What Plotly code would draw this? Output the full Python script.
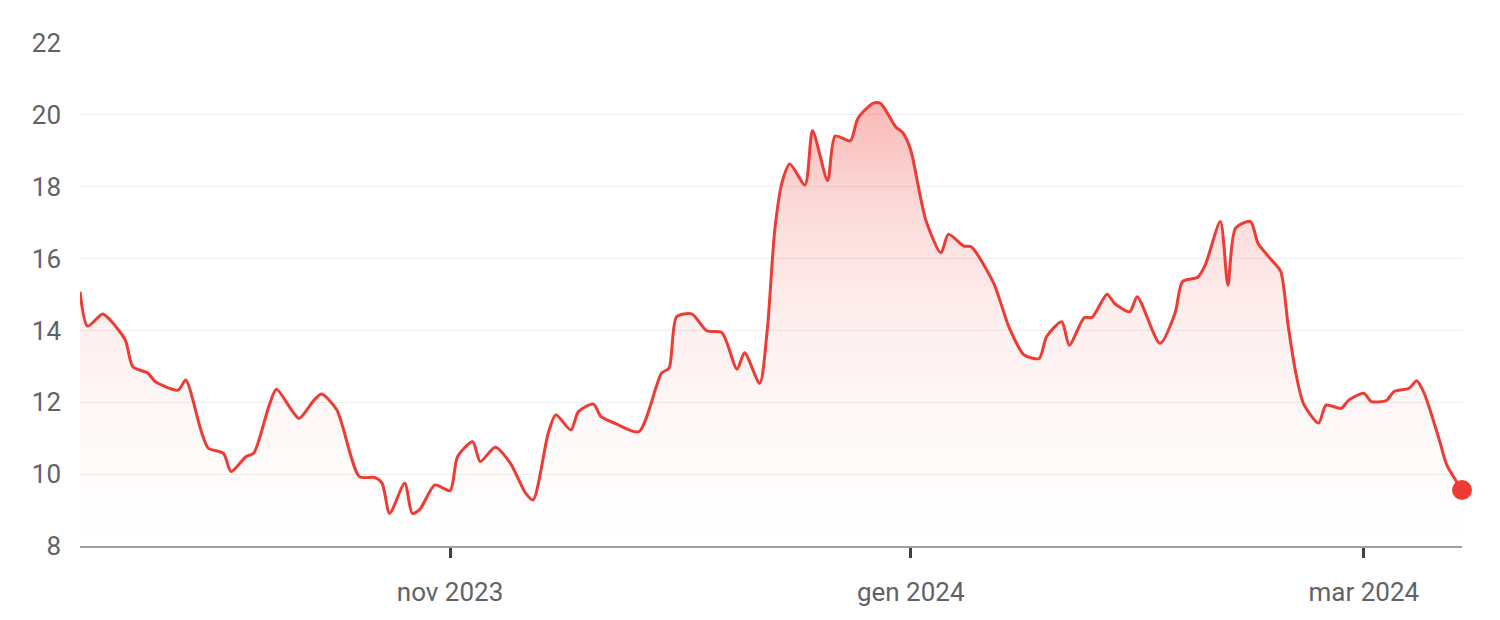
import plotly.graph_objects as go

dates = [
    "2023-09-13", "2023-09-14", "2023-09-16", "2023-09-17", "2023-09-19", "2023-09-20",
    "2023-09-22", "2023-09-23", "2023-09-26", "2023-09-27", "2023-09-29", "2023-09-30",
    "2023-10-02", "2023-10-03", "2023-10-05", "2023-10-06", "2023-10-08", "2023-10-09",
    "2023-10-11", "2023-10-12", "2023-10-14", "2023-10-15", "2023-10-17", "2023-10-20",
    "2023-10-22", "2023-10-23", "2023-10-24", "2023-10-26", "2023-10-27", "2023-10-28",
    "2023-10-30", "2023-11-01", "2023-11-02", "2023-11-04", "2023-11-05", "2023-11-07",
    "2023-11-09", "2023-11-11", "2023-11-12", "2023-11-14", "2023-11-15", "2023-11-17",
    "2023-11-18", "2023-11-20", "2023-11-21", "2023-11-23", "2023-11-26", "2023-11-29",
    "2023-11-30", "2023-12-01", "2023-12-03", "2023-12-05", "2023-12-07", "2023-12-09",
    "2023-12-10", "2023-12-12", "2023-12-13", "2023-12-14", "2023-12-15", "2023-12-16",
    "2023-12-18", "2023-12-19", "2023-12-21", "2023-12-22", "2023-12-24", "2023-12-25",
    "2023-12-27", "2023-12-28", "2023-12-30", "2023-12-31", "2024-01-01", "2024-01-03",
    "2024-01-05", "2024-01-06", "2024-01-08", "2024-01-09", "2024-01-12", "2024-01-14",
    "2024-01-16", "2024-01-18", "2024-01-19", "2024-01-21", "2024-01-22", "2024-01-24",
    "2024-01-25", "2024-01-27", "2024-01-28", "2024-01-30", "2024-01-31", "2024-02-03",
    "2024-02-05", "2024-02-06", "2024-02-08", "2024-02-09", "2024-02-11", "2024-02-12",
    "2024-02-13", "2024-02-15", "2024-02-16", "2024-02-18", "2024-02-19", "2024-02-20",
    "2024-02-21", "2024-02-22", "2024-02-24", "2024-02-25", "2024-02-27", "2024-02-28",
    "2024-03-01", "2024-03-02", "2024-03-04", "2024-03-05", "2024-03-07", "2024-03-08",
    "2024-03-09", "2024-03-11", "2024-03-12", "2024-03-14",
]

values = [
    15.08, 14.12, 14.46, 14.29, 13.73, 12.99,
    12.81, 12.57, 12.34, 12.62, 11.23, 10.72,
    10.58, 10.07, 10.49, 10.58, 11.88, 12.36,
    11.79, 11.55, 12.06, 12.23, 11.79, 9.93,
    9.91, 9.75, 8.91, 9.75, 8.91, 9.02,
    9.70, 9.54, 10.49, 10.90, 10.35, 10.75,
    10.30, 9.47, 9.28, 11.14, 11.65, 11.23,
    11.74, 11.95, 11.60, 11.40, 11.18, 12.81,
    12.95, 14.38, 14.46, 13.99, 13.94, 12.92,
    13.38, 12.53, 14.00, 16.80, 18.15, 18.63,
    18.05, 19.56, 18.17, 19.41, 19.28, 19.90,
    20.32, 20.32, 19.67, 19.49, 19.02, 17.07,
    16.16, 16.68, 16.35, 16.33, 15.31, 14.10,
    13.32, 13.22, 13.83, 14.24, 13.59, 14.36,
    14.36, 15.01, 14.75, 14.52, 14.94, 13.64,
    14.48, 15.36, 15.48, 15.82, 17.03, 15.26,
    16.84, 17.03, 16.42, 15.91, 15.64, 14.10,
    12.81, 11.97, 11.42, 11.92, 11.83, 12.06,
    12.25, 12.02, 12.05, 12.30, 12.39, 12.60,
    12.25, 10.95, 10.25, 9.56,
]

x_tick_vals = ["2023-11-01", "2024-01-01", "2024-03-01"]
x_tick_text = ["nov 2023", "gen 2024", "mar 2024"]
y_tick_vals = [8, 10, 12, 14, 16, 18, 20, 22]

RED = "#ee3b33"

fig = go.Figure()
fig.add_trace(go.Scatter(
    x=dates, y=values,
    mode="lines",
    line=dict(color=RED, width=3, shape="spline", smoothing=0.7),
    fill="tozeroy",
    fillgradient=dict(
        type="vertical",
        start=8, stop=20.4,
        colorscale=[
            [0.0, "rgba(238,59,51,0.0)"],
            [0.25, "rgba(238,59,51,0.03)"],
            [0.5, "rgba(238,59,51,0.08)"],
            [0.75, "rgba(238,59,51,0.18)"],
            [1.0, "rgba(238,59,51,0.36)"],
        ],
    ),
    hoverinfo="skip",
    showlegend=False,
))
fig.add_trace(go.Scatter(
    x=[dates[-1]], y=[values[-1]],
    mode="markers",
    marker=dict(color=RED, size=20),
    hoverinfo="skip",
    showlegend=False,
    cliponaxis=False,
))

fig.update_layout(
    width=1500, height=620,
    margin=dict(l=72, r=46, t=35, b=82),
    paper_bgcolor="white",
    plot_bgcolor="white",
    font=dict(family="Roboto, Arial, sans-serif", size=26, color="#5f6368"),
)
fig.update_xaxes(
    type="date",
    range=[dates[0], dates[-1]],
    tickvals=x_tick_vals,
    ticktext=x_tick_text,
    showgrid=False,
    showline=True, linecolor="#9aa0a6", linewidth=1.5,
    ticks="outside", ticklen=10, tickwidth=3, tickcolor="#3c4043",
    ticklabelstandoff=12,
    tickfont=dict(size=26, color="#5f6368"),
    zeroline=False,
)
fig.update_yaxes(
    range=[8, 22],
    tickvals=y_tick_vals,
    showgrid=True, gridcolor="#eeeeee", gridwidth=1,
    showline=False, zeroline=False,
    ticks="",
    ticklabelstandoff=18,
    tickfont=dict(size=26, color="#5f6368"),
)

fig.write_html("out.html")
